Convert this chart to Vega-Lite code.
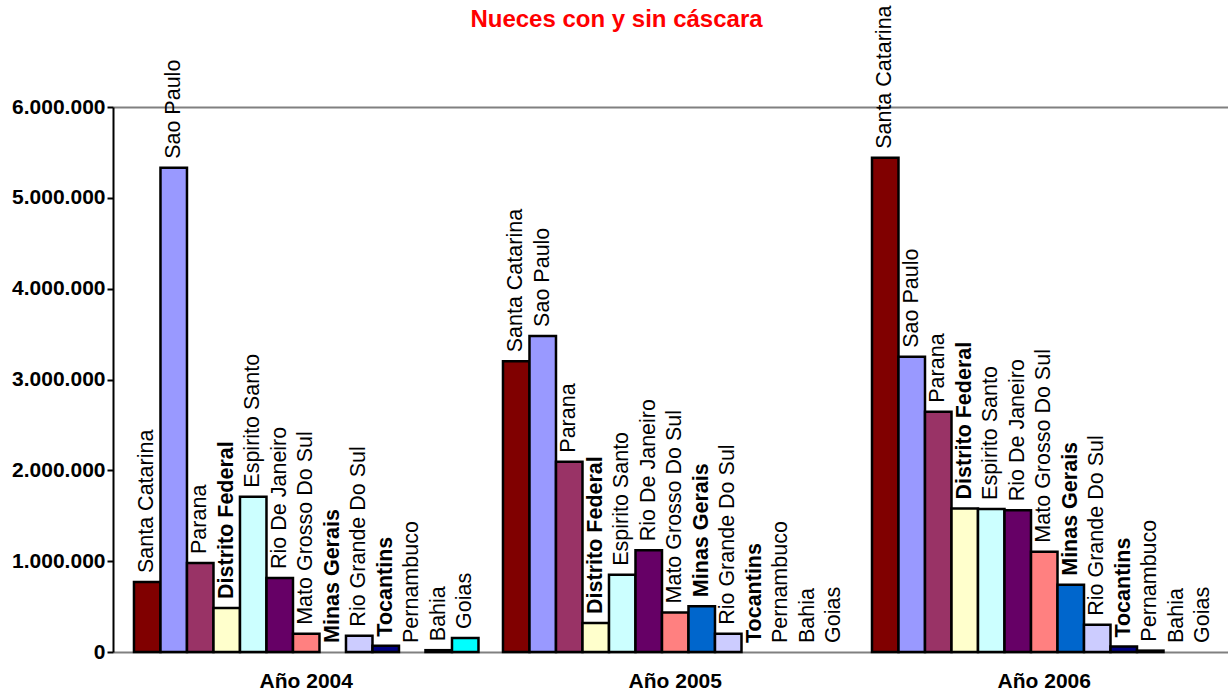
{
  "$schema": "https://vega.github.io/schema/vega-lite/v6.json",
  "width": 1115,
  "height": 545,
  "autosize": {"type": "none"},
  "padding": {"left": 113, "top": 107, "right": 0, "bottom": 45},
  "background": "white",
  "title": {
    "text": "Nueces con y sin cáscara",
    "color": "#FF0000",
    "fontSize": 24,
    "fontWeight": "bold",
    "font": "Liberation Sans",
    "frame": "group",
    "anchor": "middle",
    "baseline": "alphabetic",
    "offset": 79,
    "dx": -54,
    "dy": 125
  },
  "config": {"font": "Liberation Sans", "view": {"stroke": null}},
  "data": {
    "values": [
      {"year": "Año 2004", "state": "Santa Catarina", "value": 770000},
      {"year": "Año 2004", "state": "Sao Paulo", "value": 5330000},
      {"year": "Año 2004", "state": "Parana", "value": 980000},
      {"year": "Año 2004", "state": "Distrito Federal", "value": 485000},
      {"year": "Año 2004", "state": "Espirito Santo", "value": 1710000},
      {"year": "Año 2004", "state": "Rio De Janeiro", "value": 815000},
      {"year": "Año 2004", "state": "Mato Grosso Do Sul", "value": 200000},
      {"year": "Año 2004", "state": "Minas Gerais", "value": 0},
      {"year": "Año 2004", "state": "Rio Grande Do Sul", "value": 180000},
      {"year": "Año 2004", "state": "Tocantins", "value": 70000},
      {"year": "Año 2004", "state": "Pernambuco", "value": 0},
      {"year": "Año 2004", "state": "Bahia", "value": 20000},
      {"year": "Año 2004", "state": "Goias", "value": 155000},
      {"year": "Año 2005", "state": "Santa Catarina", "value": 3200000},
      {"year": "Año 2005", "state": "Sao Paulo", "value": 3480000},
      {"year": "Año 2005", "state": "Parana", "value": 2095000},
      {"year": "Año 2005", "state": "Distrito Federal", "value": 320000},
      {"year": "Año 2005", "state": "Espirito Santo", "value": 850000},
      {"year": "Año 2005", "state": "Rio De Janeiro", "value": 1120000},
      {"year": "Año 2005", "state": "Mato Grosso Do Sul", "value": 435000},
      {"year": "Año 2005", "state": "Minas Gerais", "value": 505000},
      {"year": "Año 2005", "state": "Rio Grande Do Sul", "value": 200000},
      {"year": "Año 2005", "state": "Tocantins", "value": 0},
      {"year": "Año 2005", "state": "Pernambuco", "value": 0},
      {"year": "Año 2005", "state": "Bahia", "value": 0},
      {"year": "Año 2005", "state": "Goias", "value": 0},
      {"year": "Año 2006", "state": "Santa Catarina", "value": 5440000},
      {"year": "Año 2006", "state": "Sao Paulo", "value": 3250000},
      {"year": "Año 2006", "state": "Parana", "value": 2645000},
      {"year": "Año 2006", "state": "Distrito Federal", "value": 1580000},
      {"year": "Año 2006", "state": "Espirito Santo", "value": 1575000},
      {"year": "Año 2006", "state": "Rio De Janeiro", "value": 1560000},
      {"year": "Año 2006", "state": "Mato Grosso Do Sul", "value": 1105000},
      {"year": "Año 2006", "state": "Minas Gerais", "value": 740000},
      {"year": "Año 2006", "state": "Rio Grande Do Sul", "value": 300000},
      {"year": "Año 2006", "state": "Tocantins", "value": 60000},
      {"year": "Año 2006", "state": "Pernambuco", "value": 15000},
      {"year": "Año 2006", "state": "Bahia", "value": 0},
      {"year": "Año 2006", "state": "Goias", "value": 0}
    ]
  },
  "encoding": {
    "x": {
      "field": "year",
      "type": "nominal",
      "sort": ["Año 2004", "Año 2005", "Año 2006"],
      "scale": {"paddingInner": 0.0664, "paddingOuter": 0.044, "align": 0.646},
      "title": null,
      "axis": {
        "labelAngle": 0,
        "labelFont": "Liberation Sans",
        "labelFontSize": 21,
        "labelFontWeight": "bold",
        "labelColor": "black",
        "labelPadding": 18,
        "ticks": false,
        "domainColor": "#808080",
        "domainWidth": 2
      }
    },
    "xOffset": {
      "field": "state",
      "type": "nominal",
      "sort": ["Santa Catarina", "Sao Paulo", "Parana", "Distrito Federal", "Espirito Santo", "Rio De Janeiro", "Mato Grosso Do Sul", "Minas Gerais", "Rio Grande Do Sul", "Tocantins", "Pernambuco", "Bahia", "Goias"],
      "scale": {"paddingInner": 0, "paddingOuter": 0}
    },
    "y": {
      "field": "value",
      "type": "quantitative",
      "scale": {"domain": [0, 6000000], "nice": false},
      "title": null,
      "axis": {
        "values": [0, 1000000, 2000000, 3000000, 4000000, 5000000, 6000000],
        "labelExpr": "replace(format(datum.value, ','), regexp(',', 'g'), '.')",
        "labelFont": "Liberation Sans",
        "labelFontSize": 21,
        "labelFontWeight": "bold",
        "labelColor": "black",
        "labelPadding": 2,
        "domainColor": "black",
        "domainWidth": 2,
        "tickColor": "black",
        "tickWidth": 2,
        "tickSize": 6,
        "grid": true,
        "gridColor": "#808080",
        "gridWidth": 2,
        "gridOpacity": {"condition": {"test": "datum.value == 6000000", "value": 1}, "value": 0}
      }
    }
  },
  "layer": [
    {
      "transform": [{"filter": "datum.value > 0"}],
      "mark": {"type": "bar", "stroke": "black", "strokeWidth": 2.5},
      "encoding": {
        "color": {
          "field": "state",
          "type": "nominal",
          "legend": null,
          "scale": {
            "domain": ["Santa Catarina", "Sao Paulo", "Parana", "Distrito Federal", "Espirito Santo", "Rio De Janeiro", "Mato Grosso Do Sul", "Minas Gerais", "Rio Grande Do Sul", "Tocantins", "Pernambuco", "Bahia", "Goias"],
            "range": ["#800000", "#9999FF", "#993366", "#FFFFCC", "#CCFFFF", "#660066", "#FF8080", "#0066CC", "#CCCCFF", "#000080", "#FF00FF", "#FFFF00", "#00FFFF"]
          }
        }
      }
    },
    {
      "transform": [{"filter": "datum.state != 'Distrito Federal' && datum.state != 'Minas Gerais' && datum.state != 'Tocantins'"}],
      "mark": {"type": "text", "angle": 270, "align": "left", "baseline": "middle", "dx": 9, "fontSize": 21.5, "font": "Liberation Sans", "color": "black"},
      "encoding": {"text": {"field": "state", "type": "nominal"}}
    },
    {
      "transform": [{"filter": "datum.state == 'Distrito Federal' || datum.state == 'Minas Gerais' || datum.state == 'Tocantins'"}],
      "mark": {"type": "text", "angle": 270, "align": "left", "baseline": "middle", "dx": 9, "fontSize": 21.5, "fontWeight": "bold", "font": "Liberation Sans", "color": "black"},
      "encoding": {"text": {"field": "state", "type": "nominal"}}
    }
  ]
}
